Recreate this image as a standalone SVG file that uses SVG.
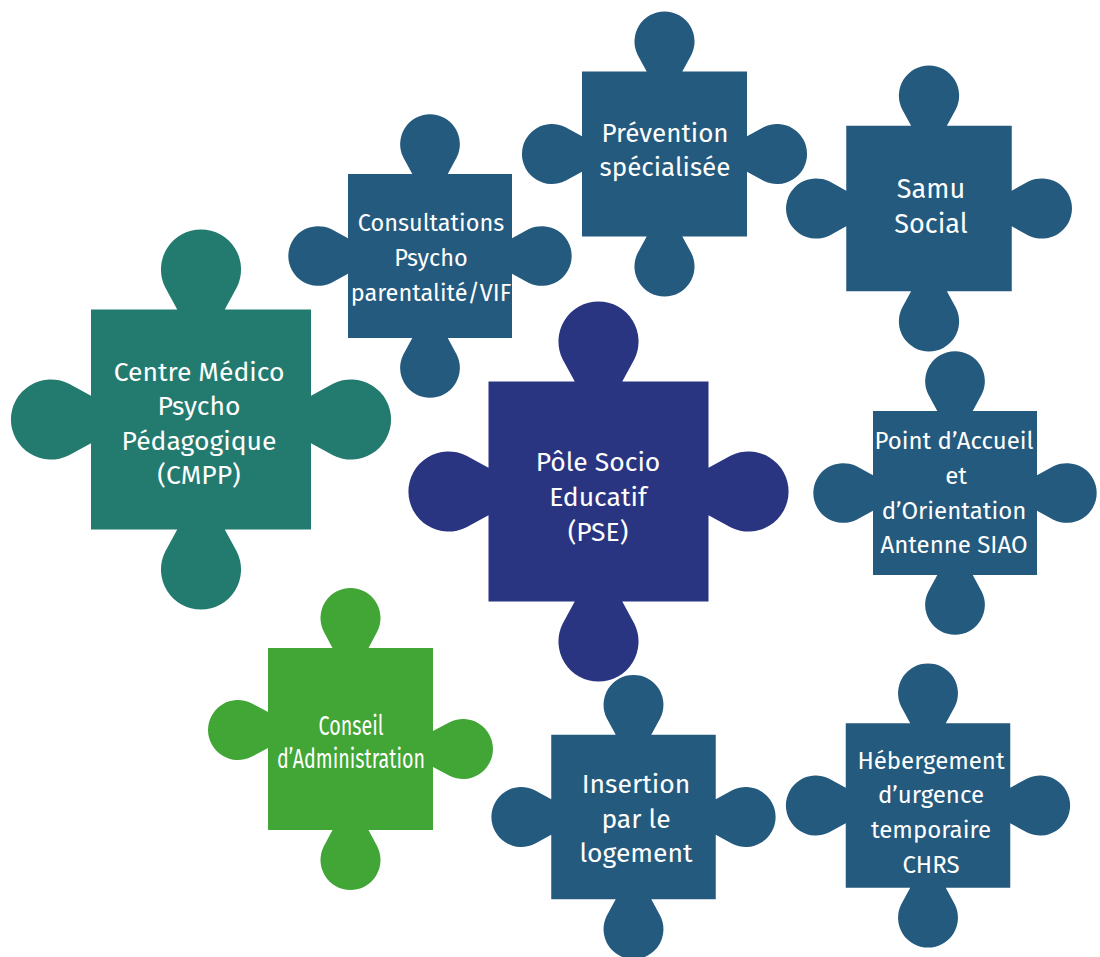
<svg xmlns="http://www.w3.org/2000/svg" xmlns:xlink="http://www.w3.org/1999/xlink" width="1100" height="957" viewBox="0 0 1100 957">
<style>
.blue{fill:#245A7E}
.navy{fill:#2A3582}
.teal{fill:#237B6F}
.green{fill:#41A636}
text{font-family:"Fira Sans","Noto Sans","Liberation Sans",sans-serif;fill:#FFFFFF;text-anchor:middle;font-size:25px}
</style>
<defs>
<path id="piece" d="M-50,-50 H-10.8 L-16.25,-60 A18.2,18.2 0 1 1 16.25,-60 L10.8,-50 H50 V-10.8 L60,-16.25 A18.2,18.2 0 1 1 60,16.25 L50,10.8 V50 H10.8 L16.25,60 A18.2,18.2 0 1 1 -16.25,60 L-10.8,50 H-50 V10.8 L-60,16.25 A18.2,18.2 0 1 1 -60,-16.25 L-50,-10.8 Z"/>
</defs>
<g id="connectors"></g>
<g id="cmpp" style="font-size:26.5px">
<use xlink:href="#piece" class="teal" transform="translate(201,419.5) scale(2.2)"/>
<text x="199" y="381" style="font-size:26.5px">Centre Médico</text>
<text x="199" y="415" style="font-size:26.5px">Psycho</text>
<text x="199" y="450" style="font-size:26.5px">Pédagogique</text>
<text x="199" y="484" style="font-size:26.5px">(CMPP)</text>
</g>
<g id="consultations">
<use xlink:href="#piece" class="blue" transform="translate(430,256) scale(1.64)"/>
<text x="431" y="231" style="font-size:23.5px">Consultations</text>
<text x="431" y="266" style="font-size:23.5px">Psycho</text>
<text x="431" y="301" style="font-size:23.5px">parentalité/VIF</text>
</g>
<g id="prevention">
<use xlink:href="#piece" class="blue" transform="translate(664.5,154) scale(1.65)"/>
<text x="665" y="142" style="font-size:26px">Prévention</text>
<text x="665" y="176" style="font-size:26px">spécialisée</text>
</g>
<g id="samu">
<use xlink:href="#piece" class="blue" transform="translate(929,208.5) scale(1.655)"/>
<text x="931" y="198" style="font-size:27px">Samu</text>
<text x="931" y="233" style="font-size:27px">Social</text>
</g>
<g id="pse">
<use xlink:href="#piece" class="navy" transform="translate(598.5,491.5) scale(2.2)"/>
<text x="598" y="471" style="font-size:26.5px">Pôle Socio</text>
<text x="598" y="506" style="font-size:26.5px">Educatif</text>
<text x="598" y="541" style="font-size:26.5px">(PSE)</text>
</g>
<g id="accueil">
<use xlink:href="#piece" class="blue" transform="translate(955,493) scale(1.64)"/>
<text x="954" y="449" style="font-size:24px">Point d’Accueil</text>
<text x="956" y="484" style="font-size:24px">et</text>
<text x="954" y="519" style="font-size:24px">d’Orientation</text>
<text x="954" y="553" style="font-size:24px">Antenne SIAO</text>
</g>
<g id="conseil">
<path class="green" d="M268,648 H332.5 L323.7,631.5 A30,30 0 1 1 377.3,631.5 L368.5,648 H433 V731 L449.5,722.2 A30,30 0 1 1 449.5,775.8 L433,767 V830 H368.5 L377.3,846.5 A30,30 0 1 1 323.7,846.5 L332.5,830 H268 V748 L251.5,756.8 A30,30 0 1 1 251.5,703.2 L268,712 Z"/>
<text x="351" y="735" textLength="65" lengthAdjust="spacingAndGlyphs" style="font-size:27px">Conseil</text>
<text x="351" y="768" textLength="148" lengthAdjust="spacingAndGlyphs" style="font-size:27px">d’Administration</text>
</g>
<g id="insertion">
<use xlink:href="#piece" class="blue" transform="translate(633.5,817) scale(1.645)"/>
<text x="636" y="793" style="font-size:26.5px">Insertion</text>
<text x="636" y="828" style="font-size:26.5px">par le</text>
<text x="636" y="862" style="font-size:26.5px">logement</text>
</g>
<g id="hebergement">
<use xlink:href="#piece" class="blue" transform="translate(928,805.5) scale(1.645)"/>
<text x="931" y="769" style="font-size:24px">Hébergement</text>
<text x="931" y="803" style="font-size:24px">d’urgence</text>
<text x="931" y="838" style="font-size:24px">temporaire</text>
<text x="931" y="873" style="font-size:24px">CHRS</text>
</g>
</svg>
